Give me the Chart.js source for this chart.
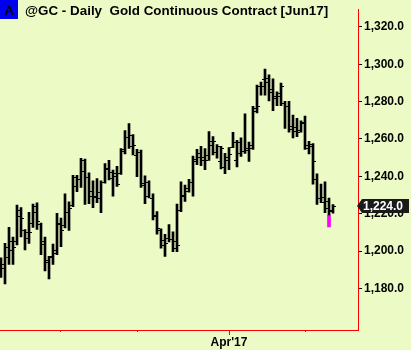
<!DOCTYPE html>
<html>
<head>
<meta charset="utf-8">
<script src="https://cdn.jsdelivr.net/npm/chart.js@4"></script>
<style>
  body { margin: 0; background: #ECFAC6; }
  #wrap { width: 411px; height: 350px; position: relative; }
</style>
</head>
<body>
<div id="wrap"><canvas id="goldchart"></canvas></div>
<script>
// daily bars, Jun17 gold contract (index 0 = first bar on the left)
var opens = [1187.2,1193.3,1196.8,1200.6,1205.1,1221.9,1211.2,1210.3,1215.0,1224.0,
  1214.7,1205.5,1194.2,1197.1,1200.6,1215.0,1213.8,1220.7,1224.5,1239.8,
  1238.4,1248.8,1239.8,1229.4,1228.9,1231.8,1237.0,1244.0,1239.3,1240.2,
  1241.6,1253.7,1261.3,1256.1,1251.4,1253.2,1236.3,1236.7,1228.4,1219.0,
  1211.0,1203.2,1207.2,1206.3,1201.6,1221.9,1229.7,1232.4,1237.0,1248.0,
  1250.6,1248.8,1248.8,1256.7,1253.2,1248.0,1244.9,1248.8,1255.8,1248.8,
  1252.7,1253.7,1255.4,1256.7,1276.6,1288.2,1292.2,1290.5,1284.9,1282.2,
  1283.0,1279.2,1277.8,1265.3,1266.5,1264.8,1269.3,1256.7,1256.1,1238.8,
  1228.4,1226.3,1226.6,1221.9];
var highs = [1196.3,1204.1,1212.7,1207.5,1224.6,1223.2,1211.5,1220.7,1225.1,1225.8,
  1215.0,1207.5,1197.1,1203.7,1220.2,1217.6,1230.6,1226.3,1240.5,1240.5,
  1249.7,1249.2,1241.9,1237.6,1238.8,1237.6,1246.8,1248.5,1243.3,1245.4,
  1254.9,1264.5,1268.3,1262.4,1254.4,1254.0,1240.2,1237.6,1230.6,1221.1,
  1211.9,1208.9,1214.1,1210.3,1225.1,1237.0,1235.3,1238.4,1250.9,1254.4,
  1256.1,1254.9,1263.9,1261.3,1257.0,1256.1,1252.3,1255.4,1263.6,1259.3,
  1260.6,1273.5,1258.4,1277.5,1288.8,1290.5,1297.4,1294.3,1292.2,1285.3,
  1290.0,1280.1,1280.1,1272.8,1271.1,1269.7,1272.3,1258.7,1257.5,1241.4,
  1235.8,1237.0,1228.4,1224.9];
var lows = [1185.9,1182.4,1192.8,1192.8,1203.2,1207.5,1200.6,1204.1,1212.7,1211.5,
  1198.0,1189.3,1185.0,1192.8,1198.0,1202.3,1212.4,1211.0,1223.7,1231.8,
  1234.1,1224.9,1225.4,1223.2,1225.9,1220.6,1236.3,1238.1,1229.4,1234.6,
  1241.0,1252.0,1254.9,1251.4,1239.8,1234.1,1225.4,1228.4,1216.7,1209.0,
  1201.5,1197.1,1204.9,1199.7,1199.7,1221.1,1226.6,1231.5,1229.4,1246.2,
  1245.7,1243.6,1248.5,1251.4,1249.7,1244.0,1241.4,1243.6,1255.4,1245.0,
  1250.6,1252.3,1248.0,1254.4,1274.0,1283.5,1283.5,1280.4,1275.2,1277.8,
  1277.8,1265.7,1263.6,1260.6,1261.3,1263.6,1254.4,1252.0,1235.8,1224.9,
  1225.9,1220.6,1219.3,1220.2];
var closes = [1191.1,1202.0,1205.5,1202.0,1218.5,1217.6,1207.2,1210.3,1221.1,1216.2,
  1203.7,1195.4,1196.8,1198.9,1214.5,1211.5,1220.7,1222.8,1235.0,1238.8,
  1242.8,1239.8,1232.4,1229.4,1228.4,1236.7,1244.5,1242.3,1241.9,1235.8,
  1254.4,1261.3,1261.9,1256.7,1253.2,1235.3,1229.7,1228.4,1219.3,1212.1,
  1205.8,1204.1,1206.3,1205.5,1203.4,1230.1,1233.6,1237.0,1249.2,1252.3,
  1250.6,1251.4,1258.7,1258.7,1256.1,1255.4,1250.6,1251.9,1258.4,1258.4,
  1253.7,1254.0,1254.9,1274.9,1277.8,1288.4,1292.6,1287.0,1283.2,1284.4,
  1288.4,1277.5,1267.1,1264.1,1263.9,1268.3,1255.4,1257.2,1248.3,1228.4,
  1228.9,1223.2,1221.4,1224.0];

// magenta paint bar under one of the last bars
var markerIndex = [82];
var markerRange = [[1212.9, 1219.3]];

// month starts on the time axis
var monthTicks = [15, 34, 57, 76];
var monthLabels = ['', '', "Apr'17", ''];
var priceTicks = [1180, 1200, 1220, 1240, 1260, 1280, 1300, 1320];

var titleText = '@GC - Daily  Gold Continuous Contract [Jun17]';
var BG = '#ECFAC6';
var FONT = "'Liberation Sans', Arial, sans-serif";

var hlData = highs.map(function (h, i) { return { x: i, y: [lows[i], h] }; });
var markData = markerIndex.map(function (idx, k) { return { x: idx, y: markerRange[k] }; });

function fmt(v) {
  return v.toLocaleString('en-US', { minimumFractionDigits: 1, maximumFractionDigits: 1 });
}

var background = {
  id: 'background',
  beforeDraw: function (chart) {
    var c = chart.ctx;
    c.save();
    c.fillStyle = BG;
    c.fillRect(0, 0, chart.width, chart.height);
    c.restore();
  }
};

// open (left) and close (right) ticks
var ohlcTicks = {
  id: 'ohlcTicks',
  afterDatasetsDraw: function (chart) {
    var c = chart.ctx, xs = chart.scales.x, ys = chart.scales.y;
    c.save();
    c.fillStyle = '#000';
    for (var i = 0; i < opens.length; i++) {
      var x = Math.round(xs.getPixelForValue(i));
      c.fillRect(x - 3, Math.round(ys.getPixelForValue(opens[i])), 2, 1);
      c.fillRect(x + 1, Math.round(ys.getPixelForValue(closes[i])), 2, 1);
    }
    c.restore();
  }
};

var overlay = {
  id: 'overlay',
  afterDraw: function (chart) {
    var c = chart.ctx, xs = chart.scales.x, ys = chart.scales.y;
    var area = chart.chartArea;
    c.save();

    // longer tick under the labelled month
    monthTicks.forEach(function (t, k) {
      if (!monthLabels[k]) return;
      var x = Math.round(xs.getPixelForValue(t)) + 0.5;
      c.strokeStyle = '#FF0000';
      c.lineWidth = 1;
      c.beginPath();
      c.moveTo(x, area.bottom);
      c.lineTo(x, area.bottom + 5);
      c.stroke();
    });

    // last price tag
    var last = closes[closes.length - 1];
    var y = Math.round(ys.getPixelForValue(last));
    var x0 = area.right - 1;
    c.fillStyle = '#1A1A1A';
    c.beginPath();
    c.moveTo(x0, y);
    c.lineTo(x0 + 5, y - 7);
    c.lineTo(409, y - 7);
    c.lineTo(409, y + 7);
    c.lineTo(x0 + 5, y + 7);
    c.closePath();
    c.fill();
    c.fillStyle = '#FFFFFF';
    c.font = 'bold 12px ' + FONT;
    c.textBaseline = 'middle';
    c.textAlign = 'left';
    c.fillText(fmt(last), 363, y + 1);

    // title
    c.fillStyle = '#0000F0';
    c.fillRect(0, 0, 18, 19);
    c.fillStyle = '#000';
    c.font = 'bold 13.4px ' + FONT;
    c.textBaseline = 'alphabetic';
    c.textAlign = 'center';
    c.fillText('A', 9, 15);
    c.textAlign = 'left';
    c.fillText(titleText, 25, 15);
    c.restore();
  }
};

new Chart(document.getElementById('goldchart'), {
  type: 'bar',
  data: {
    datasets: [{
      label: 'High-Low',
      data: hlData,
      backgroundColor: '#000',
      borderWidth: 0,
      barThickness: 2,
      grouped: false
    }, {
      label: 'Marker',
      data: markData,
      backgroundColor: '#FF00FF',
      borderWidth: 0,
      barThickness: 3,
      grouped: false
    }]
  },
  options: {
    responsive: true,
    maintainAspectRatio: false,
    animation: false,
    layout: { padding: 0 },
    plugins: {
      legend: { display: false },
      tooltip: { enabled: false }
    },
    scales: {
      x: {
        type: 'linear',
        offset: false,
        min: -0.25,
        max: 89.25,
        afterBuildTicks: function (axis) {
          axis.ticks = monthTicks.map(function (v) { return { value: v }; });
        },
        afterFit: function (axis) { axis.height = 20; },
        border: { color: '#FF0000', width: 1 },
        grid: { offset: false, drawOnChartArea: false, tickLength: 2, tickColor: '#FF0000' },
        ticks: {
          autoSkip: false,
          maxRotation: 0,
          padding: 3,
          color: '#000',
          font: { family: FONT, size: 12, weight: 'bold' },
          callback: function (v, i) { return monthLabels[i]; }
        }
      },
      y: {
        position: 'right',
        min: 1157.7,
        max: 1329.5,
        afterBuildTicks: function (axis) {
          axis.ticks = priceTicks.map(function (v) { return { value: v }; });
        },
        afterFit: function (axis) { axis.width = 53; },
        border: { color: '#FF0000', width: 1 },
        grid: { drawOnChartArea: false, tickLength: 4, tickColor: '#000' },
        ticks: {
          padding: 2,
          color: '#000',
          font: { family: FONT, size: 12, weight: 'bold' },
          callback: function (v) { return fmt(v); }
        }
      }
    }
  },
  plugins: [background, ohlcTicks, overlay]
});
</script>
</body>
</html>
